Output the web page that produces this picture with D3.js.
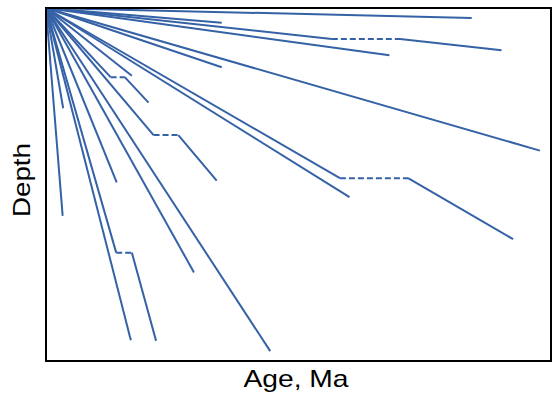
<!DOCTYPE html>
<html>
<head>
<meta charset="utf-8">
<script src="https://cdn.jsdelivr.net/npm/d3@7"></script>
<style>
  body { margin: 0; background: #fff; }
  text { font-family: "Liberation Sans", Arial, sans-serif; fill: #000; }
</style>
</head>
<body>
<div id="chart"></div>
<script>
// age (Ma) / depth pairs, arbitrary units 0-100; a flat pair = hiatus (dashed)
const cores = [
  [[0, 0], [84.3, 2.8]],
  [[0, 0], [34.8, 4.2]],
  [[0, 0], [56.6, 8.8], [70.1, 8.8], [90.2, 12.0]],
  [[0, 0], [68.0, 13.4]],
  [[0, 0], [34.8, 16.8]],
  [[0, 0], [97.8, 40.4]],
  [[0, 0], [58.2, 48.2], [71.7, 48.2], [92.5, 65.5]],
  [[0, 0], [60.1, 53.6]],
  [[0, 0], [17.0, 19.2]],
  [[0, 0], [12.8, 19.6], [15.6, 19.6], [20.3, 26.8]],
  [[0, 0], [21.3, 36.0], [26.2, 36.0], [33.8, 48.9]],
  [[0, 0], [3.4, 28.4]],
  [[0, 0], [3.3, 58.9]],
  [[0, 0], [14.0, 49.4]],
  [[0, 0], [13.9, 69.3], [17.0, 69.3], [21.8, 94.3]],
  [[0, 0], [16.8, 94.1]],
  [[0, 0], [29.3, 74.9]],
  [[0, 0], [44.4, 97.2]]
];
const xDomain = [0, 100];
const yDomain = [0, 100];
const xLabel = "Age, Ma";
const yLabel = "Depth";

const W = 553, H = 400;
const margin = { top: 8, right: 2, bottom: 39, left: 46 };
const width = W - margin.left - margin.right;
const height = H - margin.top - margin.bottom;
const color = "#3562a6";

const svg = d3.select("#chart").append("svg").attr("width", W).attr("height", H);
const g = svg.append("g").attr("transform", `translate(${margin.left},${margin.top})`);

const x = d3.scaleLinear().domain(xDomain).range([0, width]);
const y = d3.scaleLinear().domain(yDomain).range([0, height]);

// split each core into solid and hiatus segments
const segs = [];
cores.forEach(pts => {
  for (let i = 1; i < pts.length; i++) {
    segs.push({ a: pts[i - 1], b: pts[i], hiatus: pts[i][1] === pts[i - 1][1] });
  }
});

g.selectAll("line.seg")
  .data(segs)
  .join("line")
  .attr("class", "seg")
  .attr("x1", d => x(d.a[0]))
  .attr("y1", d => y(d.a[1]))
  .attr("x2", d => x(d.b[0]))
  .attr("y2", d => y(d.b[1]))
  .attr("stroke", color)
  .attr("stroke-width", 2)
  .attr("stroke-dasharray", d => d.hiatus ? "6,3" : null);

// frame
g.append("rect")
  .attr("width", width)
  .attr("height", height)
  .attr("fill", "none")
  .attr("stroke", "#000")
  .attr("stroke-width", 2);

svg.append("text")
  .attr("x", 296)
  .attr("y", 387)
  .attr("text-anchor", "middle")
  .attr("textLength", 105)
  .attr("lengthAdjust", "spacingAndGlyphs")
  .style("font-size", "24px")
  .text(xLabel);

svg.append("text")
  .attr("transform", "translate(30,180) rotate(-90)")
  .attr("text-anchor", "middle")
  .attr("textLength", 74)
  .attr("lengthAdjust", "spacingAndGlyphs")
  .style("font-size", "24px")
  .text(yLabel);
</script>
</body>
</html>
